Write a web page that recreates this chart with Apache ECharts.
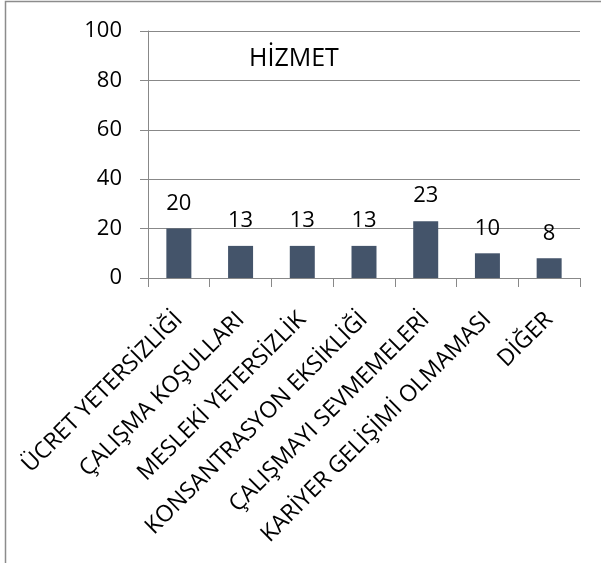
<!DOCTYPE html>
<html>
<head>
<meta charset="utf-8">
<script src="https://cdn.jsdelivr.net/npm/echarts@6/dist/echarts.min.js"></script>
<style>
html,body{margin:0;padding:0;background:#fff;}
#chart{width:601px;height:563px;}
</style>
</head>
<body>
<div id="chart"></div>
<script>
const titleText = 'HİZMET';
const categories = ['ÜCRET YETERSİZLİĞİ','ÇALIŞMA KOŞULLARI','MESLEKİ YETERSİZLİK','KONSANTRASYON EKSİKLİĞİ','ÇALIŞMAYI SEVMEMELERİ','KARİYER GELİŞİMİ OLMAMASI','DİĞER'];
const values = [20, 13, 13, 13, 23, 10, 8];
const yMin = 0, yMax = 100, yStep = 20;

const chart = echarts.init(document.getElementById('chart'), null, {renderer:'canvas'});
const font = '"Open Sans", "Noto Sans", sans-serif';
chart.setOption({
  animation: false,
  backgroundColor: '#fff',
  title: {
    text: titleText,
    left: 244, top: 41,
    textStyle: {fontFamily: font, fontSize: 25, fontWeight: 'normal', color: '#000'}
  },
  graphic: [{
    type: 'polyline',
    shape: {points: [[5.5, 563], [5.5, 1.5], [601, 1.5]]},
    style: {stroke: '#8c8c8c', lineWidth: 1.5, fill: null},
    silent: true
  }],
  grid: {left: 148, right: 21, top: 31, bottom: 285, containLabel: false},
  xAxis: {
    type: 'category',
    data: categories,
    boundaryGap: true,
    axisLine: {show: true, lineStyle: {color: '#888', width: 1}},
    axisTick: {show: true, length: 9, lineStyle: {color: '#888'}},
    axisLabel: {rotate: 45, interval: 0, margin: 38, fontFamily: font, fontSize: 23, color: '#000'},
    splitLine: {show: false}
  },
  yAxis: {
    type: 'value',
    min: yMin, max: yMax, interval: yStep,
    axisLine: {show: true, lineStyle: {color: '#888', width: 1}},
    axisTick: {show: true, length: 8, lineStyle: {color: '#888'}},
    axisLabel: {margin: 26, fontFamily: font, fontSize: 22, color: '#000'},
    splitLine: {show: true, lineStyle: {color: '#888', width: 1}}
  },
  series: [{
    type: 'bar',
    data: values,
    barWidth: 25,
    itemStyle: {color: '#44546a'},
    label: {show: true, position: 'top', distance: 14, fontFamily: font, fontSize: 22, color: '#000'}
  }]
});
</script>
</body>
</html>
